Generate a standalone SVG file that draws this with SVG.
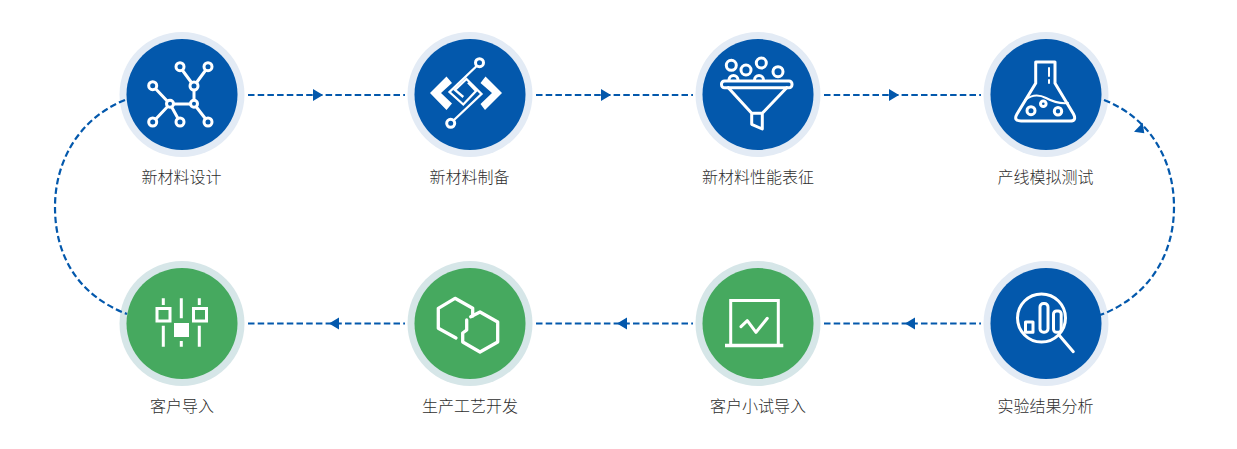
<svg xmlns="http://www.w3.org/2000/svg" width="1237" height="449" viewBox="0 0 1237 449">
<style>
.rb{fill:#e3ebf5}.ib{fill:#0358ac}.rg{fill:#d6e6e8}.ig{fill:#46a95f}
.ic{fill:none;stroke:#fff;stroke-width:3;stroke-linejoin:round;stroke-linecap:round}
.lb{font-family:"Noto Sans CJK SC",sans-serif;font-weight:300;font-size:16px;fill:#2e2e2e;text-anchor:middle}
.dl{fill:none;stroke:#0358ac;stroke-width:2.2;stroke-dasharray:6.5 3.2}
.ah{fill:#0358ac}
</style>
<rect width="1237" height="449" fill="#fff"/>
<g id="n1"><circle class="rb" cx="182" cy="94.5" r="62.5"/><circle class="ib" cx="182" cy="94.5" r="55.5"/>
<path class="ic" d="M180 67L194 86L208 67M194 86V104M153 86L170 104H194L208 122M170 104L153 122M170 104L180 122"/>
<g class="ic" style="fill:#0358ac"><circle cx="180" cy="66.7" r="4"/><circle cx="208" cy="66.7" r="4"/><circle cx="194" cy="86" r="4"/><circle cx="152.7" cy="85.7" r="4"/><circle cx="170" cy="103.7" r="3.5"/><circle cx="194" cy="103.7" r="3.5"/><circle cx="152.7" cy="122" r="4"/><circle cx="180" cy="122" r="4"/><circle cx="208" cy="122" r="4"/></g>
<text class="lb" x="181.5" y="183">新材料设计</text></g>
<g id="n2"><circle class="rb" cx="470" cy="94.5" r="62.5"/><circle class="ib" cx="470" cy="94.5" r="55.5"/>
<path d="M430 93L446.500 76.500L452 83L441 93L452 103.500L446.500 110ZM502 93L485.500 76.500L480.500 83L492 93L480.500 104L485 110Z" fill="#fff"/>
<path class="ic" style="stroke-width:2.300;stroke-linecap:butt;stroke-linejoin:miter" d="M476.700 66L449.500 92L463.300 104.500L476 91L468 82.500M454 120L481.500 94L466.500 79L455 90L463.300 97"/>
<circle class="ic" cx="479.500" cy="62.700" r="4"/><circle class="ic" cx="450.700" cy="123.300" r="4"/>
<text class="lb" x="469.5" y="183">新材料制备</text></g>
<g id="n3"><circle class="rb" cx="758" cy="94.5" r="62.5"/><circle class="ib" cx="758" cy="94.5" r="55.5"/>
<g class="ic"><circle cx="731.3" cy="65.3" r="5"/><circle cx="746" cy="70" r="5"/><circle cx="761.3" cy="63" r="5"/><circle cx="778" cy="71.7" r="5"/>
<path d="M729 80A4.500 4.500 0 0 1 738 80M754.500 80A4.500 4.500 0 0 1 763.500 80"/>
<rect x="721.500" y="81" width="70.500" height="6.700" rx="3"/>
<path d="M728.300 87.700L751.700 113.300H762.300L786.700 87.700M751.700 113.300V124.300L762.300 129V113.300"/></g>
<text class="lb" x="758" y="183">新材料性能表征</text></g>
<g id="n4"><circle class="rb" cx="1046" cy="94.5" r="62.5"/><circle class="ib" cx="1046" cy="94.5" r="55.5"/>
<g class="ic"><path d="M1035.700 83.300V62H1055V83.300L1073.500 114Q1077 121 1070 121H1021Q1013 121 1017 114Z"/>
<path style="stroke-width:2" d="M1049 68V76M1049 80V83"/><path style="stroke-width:2" d="M1025 100Q1035 92 1046 98T1068 103"/>
<circle cx="1031" cy="110.700" r="4"/><circle cx="1043.300" cy="103.700" r="2.800"/><circle cx="1058" cy="111.300" r="3.700"/></g>
<text class="lb" x="1045.500" y="183">产线模拟测试</text></g>
<g id="n5"><circle class="rb" cx="1046" cy="323.500" r="62.500"/><circle class="ib" cx="1046" cy="323.500" r="55.500"/>
<g class="ic"><circle cx="1041.500" cy="318" r="24"/><path d="M1059 335L1073.300 351.700"/>
<rect x="1025.500" y="322" width="7.500" height="10.300"/><rect x="1040" y="303.500" width="8" height="28.800" rx="3.500"/><rect x="1053.500" y="311" width="7.700" height="21.300" rx="3"/></g>
<text class="lb" x="1045.500" y="412">实验结果分析</text></g>
<g id="n6"><circle class="rg" cx="758" cy="323.500" r="62.500"/><circle class="ig" cx="758" cy="323.500" r="55.500"/>
<path class="ic" style="stroke-linecap:butt;stroke-linejoin:miter" d="M730.700 344V300.500H778.300V344"/><path d="M725 345.500H783.300" stroke="#fff" stroke-width="3.500"/>
<path class="ic" d="M741 326.700L747.300 320.700L756 332.300L767.300 318.300"/>
<text class="lb" x="758" y="412">客户小试导入</text></g>
<g id="n7"><circle class="rg" cx="470" cy="323.500" r="62.500"/><circle class="ig" cx="470" cy="323.500" r="55.500"/>
<g class="ic" style="stroke-width:3.300"><path d="M472.700 316V308.300L455 298.300L438.300 308.300V328.300L456 338"/>
<path d="M470.700 316.700L480 312L497.700 322V342L480 352L462.700 342V333L466.700 330V320"/></g>
<text class="lb" x="470" y="412">生产工艺开发</text></g>
<g id="n8"><circle class="rg" cx="182" cy="323.500" r="62.500"/><circle class="ig" cx="182" cy="323.500" r="55.500"/>
<g class="ic" style="stroke-linecap:butt;stroke-linejoin:miter"><path d="M163.300 298.300V305M163.300 325.700V346.700M181.300 298.300V318.300M181.300 341V346.700M199.300 298.300V305M199.300 325.700V346.700"/>
<rect x="157" y="308.500" width="13" height="12.500"/><rect x="193.500" y="308.500" width="13" height="12.500"/></g>
<rect x="174" y="323" width="15" height="14" fill="#fff"/>
<text class="lb" x="182" y="412">客户导入</text></g>
<g id="connectors">
<path class="dl" d="M248 95H405M536 95H693M824 95H981"/>
<path class="dl" d="M248 323.500H405M536 323.500H693M824 323.500H981"/>
<path class="dl" d="M1104 100C1150 118 1174 160 1174 207C1174 258 1146 298 1100 315"/>
<path class="dl" d="M125 100C80 118 55 160 55 207C55 258 80 296 127 314"/>
<path class="ah" d="M313 89L323 95L313 101ZM601 89L611 95L601 101ZM889 89L899 95L889 101Z"/>
<path class="ah" d="M339 317.500L329 323.500L339 329.500ZM627 317.500L617 323.500L627 329.500ZM915 317.500L905 323.500L915 329.500Z"/>
<path class="ah" d="M1142.700 122.700L1144.300 133.300L1134 131.700Z"/>
</g>
</svg>
